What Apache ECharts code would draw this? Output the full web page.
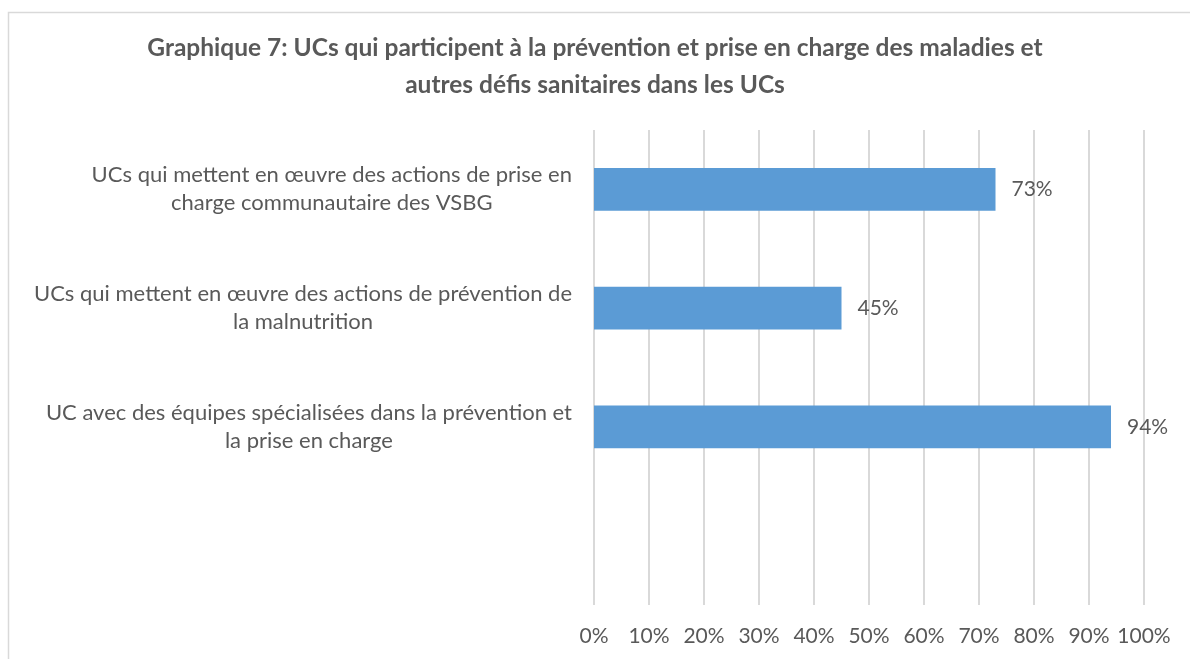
<!DOCTYPE html>
<html>
<head>
<meta charset="utf-8">
<script src="https://cdn.jsdelivr.net/npm/echarts@6/dist/echarts.min.js"></script>
<style>
  html, body { margin: 0; padding: 0; background: #ffffff; }
  #chart { width: 1190px; height: 659px; }
</style>
</head>
<body>
<div id="chart"></div>
<script>
const titleText = "Graphique 7: UCs qui participent à la prévention et prise en charge des maladies et\nautres défis sanitaires dans les UCs";
const categories = [
  "UCs qui mettent en œuvre des actions de prise en\ncharge communautaire des VSBG",
  "UCs qui mettent en œuvre des actions de prévention de\nla malnutrition",
  "UC avec des équipes spécialisées dans la prévention et\nla prise en charge",
  ""
];
const values = [73, 45, 94, null];
const xTicks = { min: 0, max: 100, interval: 10 };

const FONT = "Lato";
const TXT = "#595959";

const chart = echarts.init(document.getElementById('chart'), null, { renderer: 'canvas' });
chart.setOption({
  backgroundColor: '#ffffff',
  animation: false,
  title: {
    text: titleText,
    left: 'center',
    top: 25,
    textStyle: {
      fontFamily: FONT,
      fontWeight: 'bold',
      fontSize: 24.5,
      lineHeight: 37,
      color: TXT,
      align: 'center'
    }
  },
  graphic: [{
    type: 'rect',
    z: -10,
    silent: true,
    shape: { x: 8.5, y: 12.5, width: 1300, height: 800 },
    style: { fill: 'none', stroke: '#d9d9d9', lineWidth: 1.5 }
  }],
  grid: { left: 594, right: 46, top: 130, bottom: 54, containLabel: false },
  xAxis: {
    type: 'value',
    min: xTicks.min,
    max: xTicks.max,
    interval: xTicks.interval,
    axisLine: { show: false },
    axisTick: { show: false },
    splitLine: { show: true, lineStyle: { color: '#d9d9d9', width: 2 } },
    axisLabel: {
      formatter: '{value}%',
      fontFamily: FONT,
      fontSize: 21,
      color: TXT,
      margin: 21
    }
  },
  yAxis: {
    type: 'category',
    data: categories,
    inverse: true,
    axisLine: { show: false },
    axisTick: { show: false },
    splitLine: { show: false },
    axisLabel: {
      align: 'right',
      margin: 22,
      formatter: function (v) {
        if (!v) return '';
        return v.split('\n').map(function (l) { return '{c|' + l + '}'; }).join('\n');
      },
      rich: {
        c: { align: 'center', fontFamily: FONT, fontSize: 22, color: TXT, lineHeight: 28 }
      }
    }
  },
  series: [{
    type: 'bar',
    data: values,
    barCategoryGap: '64%',
    itemStyle: { color: '#5b9bd5' },
    label: {
      show: true,
      position: 'right',
      distance: 16,
      formatter: '{c}%',
      fontFamily: FONT,
      fontSize: 21,
      color: TXT
    }
  }]
});
</script>
</body>
</html>
